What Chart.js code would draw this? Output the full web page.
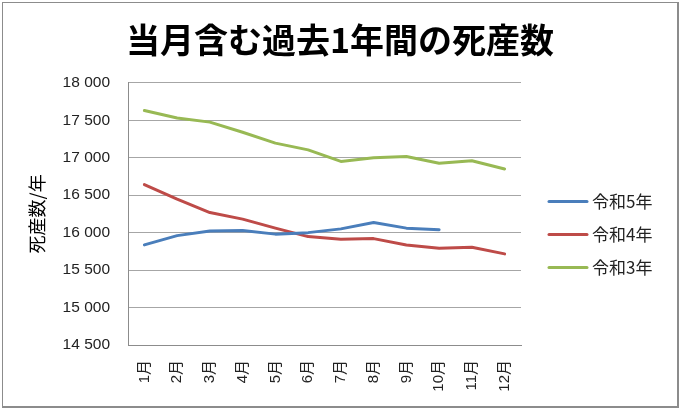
<!DOCTYPE html>
<html>
<head>
<meta charset="utf-8">
<script src="https://cdn.jsdelivr.net/npm/chart.js@4/dist/chart.umd.min.js"></script>
<style>
html,body{margin:0;padding:0;background:#fff;}
canvas{display:block;}
</style>
</head>
<body>
<canvas id="c" width="680" height="409"></canvas>
<script>
const months = ['1月','2月','3月','4月','5月','6月','7月','8月','9月','10月','11月','12月'];
const reiwa5 = [15836, 15960, 16023, 16027, 15980, 16000, 16050, 16135, 16060, 16040];
const reiwa4 = [16642, 16447, 16268, 16180, 16060, 15947, 15912, 15920, 15836, 15790, 15805, 15716];
const reiwa3 = [17630, 17530, 17475, 17340, 17195, 17105, 16950, 17000, 17015, 16925, 16960, 16850];
const seriesNames = ['令和5年','令和4年','令和3年'];
const yMin = 14500, yMax = 18000, yStep = 500;
const titleText = '当月含む過去1年間の死産数';
const yTitle = '死産数/年';

const JP = "'Noto Sans CJK JP', sans-serif";
const NUM = "'Liberation Sans', 'Noto Sans CJK JP', sans-serif";

const framePlugin = {
  id: 'frame',
  beforeDraw(chart) {
    const ctx = chart.ctx;
    ctx.save();
    ctx.fillStyle = '#fff';
    ctx.fillRect(0, 0, chart.width, chart.height);
    ctx.restore();
  },
  afterDraw(chart) {
    const ctx = chart.ctx;
    ctx.save();
    ctx.strokeStyle = '#8c8c8c';
    ctx.lineWidth = 1;
    ctx.strokeRect(2.5, 2.5, 675, 404);
    ctx.lineWidth = 2;
    ctx.beginPath();
    ctx.moveTo(678, 2); ctx.lineTo(678, 408);
    ctx.moveTo(2, 407); ctx.lineTo(678, 407);
    ctx.stroke();
    ctx.restore();
  }
};

const legendPlugin = {
  id: 'sideLegend',
  afterDraw(chart) {
    const ctx = chart.ctx;
    const ys = [201.5, 234.5, 267.5];
    ctx.save();
    chart.data.datasets.forEach((ds, i) => {
      ctx.strokeStyle = ds.borderColor;
      ctx.lineWidth = 3;
      ctx.lineCap = 'round';
      ctx.beginPath();
      ctx.moveTo(549, ys[i]);
      ctx.lineTo(587, ys[i]);
      ctx.stroke();
      ctx.fillStyle = '#222';
      ctx.font = "17px " + JP;
      ctx.textBaseline = 'middle';
      ctx.textAlign = 'left';
      ctx.fillText(ds.label, 592, ys[i]);
    });
    ctx.restore();
  }
};

new Chart(document.getElementById('c'), {
  type: 'line',
  data: {
    labels: months,
    datasets: [
      { label: seriesNames[0], data: reiwa5, borderColor: '#4a7ebb', backgroundColor: '#4a7ebb' },
      { label: seriesNames[1], data: reiwa4, borderColor: '#be4b48', backgroundColor: '#be4b48' },
      { label: seriesNames[2], data: reiwa3, borderColor: '#98b954', backgroundColor: '#98b954' }
    ]
  },
  options: {
    responsive: false,
    animation: false,
    devicePixelRatio: 1,
    layout: { padding: 0 },
    elements: {
      line: { borderWidth: 3, tension: 0, borderCapStyle: 'round', borderJoinStyle: 'round' },
      point: { radius: 0, hoverRadius: 0 }
    },
    plugins: {
      legend: { display: false },
      tooltip: { enabled: false },
      title: {
        display: true,
        text: titleText,
        color: '#000',
        font: { family: JP, size: 34, weight: 'bold' },
        padding: { top: 20, bottom: 22 }
      }
    },
    scales: {
      x: {
        type: 'category',
        offset: true,
        grid: { display: false, drawTicks: false },
        border: { display: true, color: '#8c8c8c', width: 1 },
        ticks: {
          color: '#222',
          font: { family: NUM, size: 15 },
          maxRotation: 90, minRotation: 90,
          autoSkip: false,
          padding: 15
        },
        afterFit(scale) { scale.height = 64; }
      },
      y: {
        min: yMin, max: yMax,
        grid: { color: '#a6a6a6', lineWidth: 1, drawTicks: false },
        border: { display: true, color: '#8c8c8c', width: 1 },
        ticks: {
          stepSize: yStep,
          color: '#222',
          font: { family: NUM, size: 15.5 },
          padding: 18,
          callback(v) {
            const s = String(v);
            return s.slice(0, s.length - 3) + ' ' + s.slice(-3);
          }
        },
        title: {
          display: true,
          text: yTitle,
          color: '#000',
          font: { family: JP, size: 18 },
          padding: { top: 26, bottom: 0 }
        },
        afterFit(scale) { scale.width = 128; }
      },
      side: {
        type: 'linear',
        position: 'right',
        display: true,
        grid: { display: false, drawTicks: false },
        border: { display: false },
        ticks: { display: false },
        afterFit(scale) { scale.width = 159; }
      }
    }
  },
  plugins: [framePlugin, legendPlugin]
});
</script>
</body>
</html>
